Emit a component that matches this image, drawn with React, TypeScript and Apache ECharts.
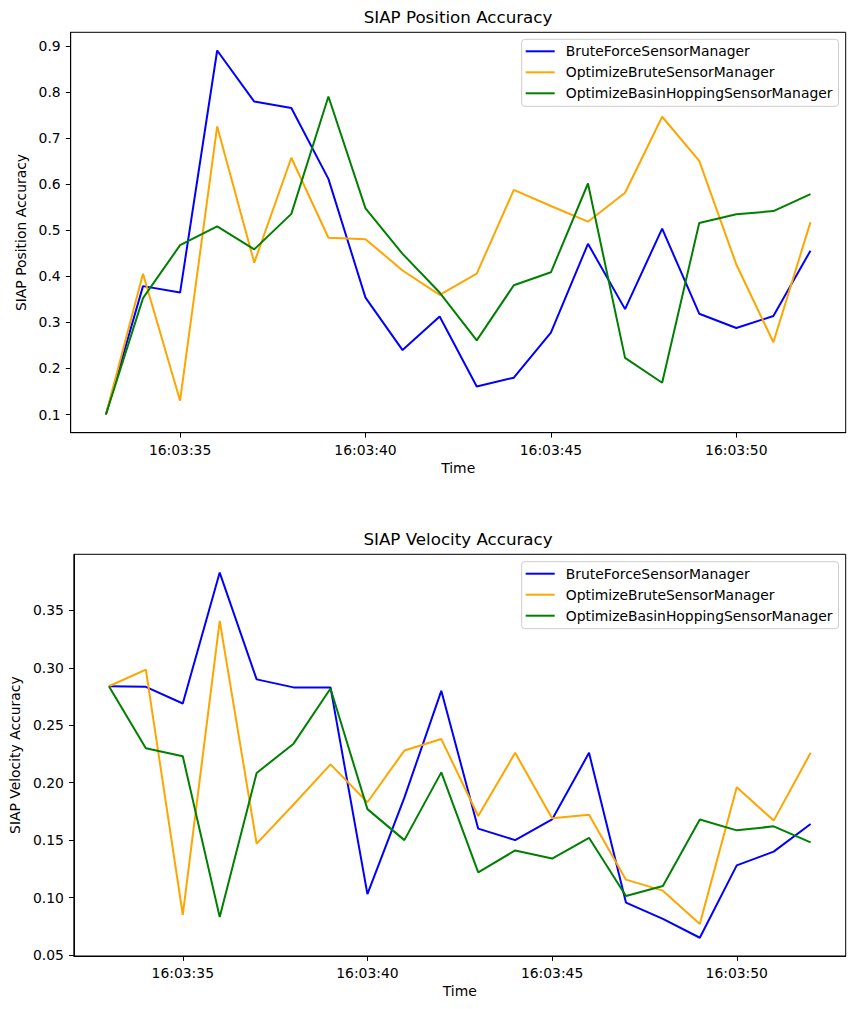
import React, { useEffect, useRef } from "react";
import * as echarts from "echarts";

// Sample times (one per second)
const timeLabels = [
  "16:03:33", "16:03:34", "16:03:35", "16:03:36", "16:03:37",
  "16:03:38", "16:03:39", "16:03:40", "16:03:41", "16:03:42",
  "16:03:43", "16:03:44", "16:03:45", "16:03:46", "16:03:47",
  "16:03:48", "16:03:49", "16:03:50", "16:03:51", "16:03:52",
];
const xTickLabels = ["16:03:35", "16:03:40", "16:03:45", "16:03:50"];

const seriesNames = [
  "BruteForceSensorManager",
  "OptimizeBruteSensorManager",
  "OptimizeBasinHoppingSensorManager",
];
const seriesColors = ["#0000ff", "#ffa500", "#008000"];

// SIAP position accuracy
const posBruteForce = [
  0.1, 0.379, 0.365, 0.891, 0.78, 0.766, 0.612, 0.354, 0.24, 0.313,
  0.161, 0.18, 0.278, 0.471, 0.329, 0.504, 0.319, 0.288, 0.314, 0.456,
];
const posOptimizeBrute = [
  0.1, 0.406, 0.13, 0.726, 0.43, 0.658, 0.484, 0.481, 0.413, 0.36,
  0.406, 0.588, 0.553, 0.519, 0.582, 0.747, 0.651, 0.426, 0.257, 0.518,
];
const posBasinHopping = [
  0.1, 0.353, 0.468, 0.509, 0.459, 0.536, 0.791, 0.548, 0.449, 0.365,
  0.261, 0.381, 0.409, 0.602, 0.223, 0.169, 0.516, 0.535, 0.542, 0.579,
];
const posTicks = [0.1, 0.2, 0.3, 0.4, 0.5, 0.6, 0.7, 0.8, 0.9];

// SIAP velocity accuracy
const velBruteForce = [
  0.284, 0.2835, 0.269, 0.383, 0.29, 0.283, 0.283, 0.103, 0.187, 0.28,
  0.16, 0.15, 0.168, 0.226, 0.0956, 0.0814, 0.065, 0.128, 0.14, 0.164,
];
const velOptimizeBrute = [
  0.284, 0.2985, 0.085, 0.341, 0.147, 0.181, 0.216, 0.183, 0.228, 0.238,
  0.171, 0.226, 0.169, 0.172, 0.1156, 0.106, 0.077, 0.196, 0.167, 0.226,
];
const velBasinHopping = [
  0.284, 0.23, 0.223, 0.083, 0.2085, 0.234, 0.282, 0.177, 0.15, 0.209,
  0.122, 0.141, 0.134, 0.152, 0.1014, 0.11, 0.168, 0.1585, 0.162, 0.148,
];
const velTicks = [0.05, 0.1, 0.15, 0.2, 0.25, 0.3, 0.35];

const FONT = "DejaVu Sans";

const toSeconds = (t: string) => {
  const [h, m, s] = t.split(":").map(Number);
  return h * 3600 + m * 60 + s;
};
const fromSeconds = (v: number) => {
  const r = Math.round(v);
  const h = Math.floor(r / 3600);
  const m = Math.floor((r % 3600) / 60);
  const s = r % 60;
  const p = (n: number) => String(n).padStart(2, "0");
  return `${p(h)}:${p(m)}:${p(s)}`;
};

const xs = timeLabels.map(toSeconds);
const xMargin = (xs[xs.length - 1] - xs[0]) * 0.05;
const xMin = xs[0] - xMargin;
const xMax = xs[xs.length - 1] + xMargin;

const paddedRange = (arrays: number[][]) => {
  const all = arrays.flat();
  const lo = Math.min(...all);
  const hi = Math.max(...all);
  const m = (hi - lo) * 0.05;
  return [lo - m, hi + m];
};

export default function App() {
  const ref = useRef<HTMLDivElement>(null);

  useEffect(() => {
    if (!ref.current) return;
    const chart = echarts.init(ref.current, undefined, { renderer: "svg" });

    const posSets = [posBruteForce, posOptimizeBrute, posBasinHopping];
    const velSets = [velBruteForce, velOptimizeBrute, velBasinHopping];
    const [pMin, pMax] = paddedRange(posSets);
    const [vMin, vMax] = paddedRange(velSets);

    const grids = [
      { left: 70.7, top: 32.3, width: 775, height: 400.4 },
      { left: 70.3, top: 554.3, width: 775.4, height: 401.7 },
    ];

    const axisCommon = {
      axisLine: { show: true, onZero: false, lineStyle: { color: "#000", width: 1 } },
      axisTick: { show: true, length: 4.9, lineStyle: { color: "#000", width: 1 } },
      splitLine: { show: false },
      nameTextStyle: { fontFamily: FONT, fontSize: 13.9, color: "#000" },
    };

    const xAxis = [0, 1].map((i) => ({
      type: "value",
      gridIndex: i,
      min: xMin,
      max: xMax,
      name: "Time",
      nameLocation: "middle",
      nameGap: 28,
      ...axisCommon,
      axisTick: { ...axisCommon.axisTick, customValues: xTickLabels.map(toSeconds) },
      axisLabel: {
        customValues: xTickLabels.map(toSeconds),
        formatter: (v: number) => fromSeconds(v),
        margin: 10,
        fontFamily: FONT,
        fontSize: 13.9,
        color: "#000",
      },
    }));

    const yAxis = [
      {
        type: "value",
        gridIndex: 0,
        min: pMin,
        max: pMax,
        name: "SIAP Position Accuracy",
        nameLocation: "middle",
        nameGap: 37,
        ...axisCommon,
        axisTick: { ...axisCommon.axisTick, customValues: posTicks },
        axisLabel: {
          customValues: posTicks,
          formatter: (v: number) => v.toFixed(1),
          margin: 10,
          fontFamily: FONT,
          fontSize: 13.9,
          color: "#000",
        },
      },
      {
        type: "value",
        gridIndex: 1,
        min: vMin,
        max: vMax,
        name: "SIAP Velocity Accuracy",
        nameLocation: "middle",
        nameGap: 46,
        ...axisCommon,
        axisTick: { ...axisCommon.axisTick, customValues: velTicks },
        axisLabel: {
          customValues: velTicks,
          formatter: (v: number) => v.toFixed(2),
          margin: 10,
          fontFamily: FONT,
          fontSize: 13.9,
          color: "#000",
        },
      },
    ];

    const makeSeries = (sets: number[][], gi: number) =>
      sets.map((vals, k) => ({
        type: "line",
        name: seriesNames[k],
        xAxisIndex: gi,
        yAxisIndex: gi,
        data: vals.map((v, j) => [xs[j], v]),
        showSymbol: false,
        symbol: "none",
        color: seriesColors[k],
        lineStyle: { width: 2, color: seriesColors[k] },
        clip: true,
        z: 2 + k,
      }));

    const legendCommon = {
      orient: "vertical",
      data: seriesNames,
      icon: "rect",
      itemWidth: 29,
      itemHeight: 2,
      itemGap: 5,
      padding: [4, 6, 5, 4],
      backgroundColor: "rgba(255,255,255,0.8)",
      borderColor: "#cccccc",
      borderWidth: 1,
      borderRadius: 3,
      selectedMode: false,
      textStyle: {
        fontFamily: FONT,
        fontSize: 13.9,
        color: "#000",
        lineHeight: 16,
        padding: [0, 0, 0, 6],
      },
    };

    chart.setOption({
      animation: false,
      backgroundColor: "#fff",
      grid: grids.map((g) => ({
        ...g,
        show: true,
        borderColor: "#000",
        borderWidth: 1,
        backgroundColor: "transparent",
        containLabel: false,
      })),
      xAxis,
      yAxis,
      legend: [
        { ...legendCommon, left: 521.7, top: 39.3 },
        { ...legendCommon, left: 521.7, top: 561.7 },
      ],
      graphic: [
        {
          type: "text",
          x: 458,
          y: 17,
          style: {
            text: "SIAP Position Accuracy",
            fontFamily: FONT,
            fontSize: 16.7,
            fill: "#000",
            align: "center",
            verticalAlign: "middle",
          },
        },
        {
          type: "text",
          x: 458,
          y: 539,
          style: {
            text: "SIAP Velocity Accuracy",
            fontFamily: FONT,
            fontSize: 16.7,
            fill: "#000",
            align: "center",
            verticalAlign: "middle",
          },
        },
      ],
      series: [...makeSeries(posSets, 0), ...makeSeries(velSets, 1)],
    });

    return () => chart.dispose();
  }, []);

  return (
    <div
      ref={ref}
      style={{ position: "fixed", left: 0, top: 0, width: 855, height: 1009 }}
    />
  );
}
